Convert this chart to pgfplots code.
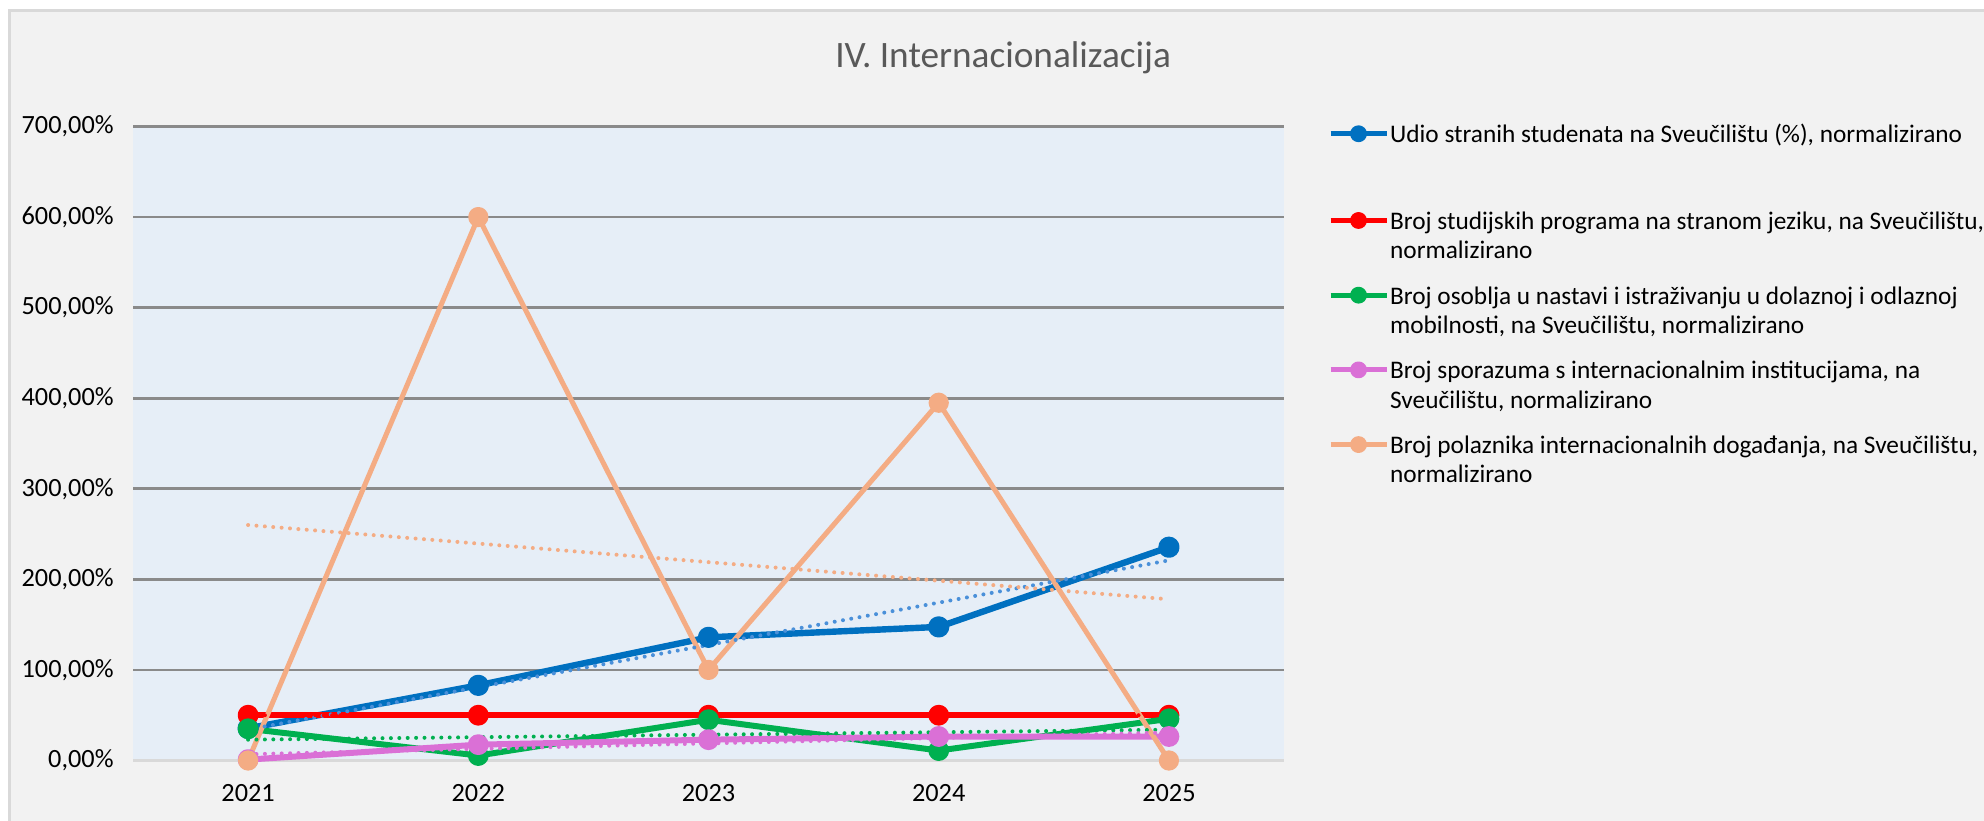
\documentclass[border=0pt]{standalone}
\usepackage{fontspec}
\setmainfont{Carlito}
\usepackage{pgfplots}
\pgfplotsset{compat=1.18}
\definecolor{chartbg}{HTML}{F2F2F2}
\definecolor{chartborder}{HTML}{D9D9D9}
\definecolor{plotbg}{HTML}{E6EEF7}
\definecolor{gridc}{HTML}{8A8A8A}
\definecolor{zeroc}{HTML}{D9D9D9}
\definecolor{titlec}{HTML}{595959}
\definecolor{cblue}{HTML}{0070C0}
\definecolor{cbluet}{HTML}{4A90D9}
\definecolor{cred}{HTML}{FF0000}
\definecolor{cgreen}{HTML}{00B050}
\definecolor{cpink}{HTML}{DA70D6}
\definecolor{corange}{HTML}{F4AC84}
\begin{document}
\begin{tikzpicture}[x=0.5bp,y=0.5bp]
\path[use as bounding box] (0,0) rectangle (1984,820);
\fill[white] (0,0) rectangle (1984,820);
\filldraw[fill=chartbg, draw=chartborder, line width=1.5bp] (9,-10) rectangle (2000,809);
\begin{axis}[
  at={(66.5bp,29.75bp)}, anchor=south west,
  scale only axis, width=575.5bp, height=317bp,
  xmin=-0.5, xmax=4.5, ymin=0, ymax=700,
  xtick={0,1,2,3,4}, xticklabels={2021,2022,2023,2024,2025},
  ytick={100,200,300,400,500,600,700},
  yticklabels={{100,00\%},{200,00\%},{300,00\%},{400,00\%},{500,00\%},{600,00\%},{700,00\%}},
  extra y ticks={0}, extra y tick labels={0{,}00\%},
  extra y tick style={grid style={color=zeroc, line width=1.5bp}},
  ymajorgrids, grid style={color=gridc, line width=1.3bp},
  axis line style={draw=none}, major tick length=0pt,
  axis background/.style={fill=plotbg},
  tick label style={font=\fontsize{13.2}{15}\selectfont, text=black},
  yticklabel style={anchor=east, inner sep=0pt, xshift=-9.5bp},
  xticklabel style={anchor=north, inner sep=0pt, yshift=-12bp},
  clip=false,
  title={IV. Internacionalizacija},
  title style={at={(axis description cs:0.756,1.089)}, anchor=center, font=\fontsize{18.7}{22}\selectfont, text=titlec},
  legend style={at={(axis description cs:1.0378,1.033)}, anchor=north west, draw=none, fill=none,
    font=\fontsize{12.7}{14.8}\selectfont, text=black, cells={align=left, anchor=west},
    row sep=6.8bp, inner xsep=0pt, inner ysep=0pt,
    nodes={inner xsep=0.5bp}},
  legend image code/.code={\draw[mark repeat=2, mark phase=2, yshift=7.4bp, #1, line width=2.6bp, mark size=2.9bp] plot coordinates {(0bp,0bp) (14bp,0bp) (28bp,0bp)};},
  every axis plot/.append style={line join=round},
  trend/.style={forget plot, line width=2bp, line cap=round, dash pattern=on 0bp off 4.2bp},
]
\addplot[color=cblue, line width=3.2bp, mark=*, mark size=3.7bp] coordinates {(0,35.5) (1,83) (2,136) (3,147.5) (4,235.5)};
\addlegendentry{\rule{0pt}{16.36bp}\strut Udio stranih studenata na Sveučilištu (\%), normalizirano\\[6bp]\strut}
\addplot[color=cred, line width=3bp, mark=*, mark size=3.7bp] coordinates {(0,50) (1,50) (2,50) (3,50) (4,50)};
\addlegendentry{\strut Broj studijskih programa na stranom jeziku, na Sveučilištu,\\\strut normalizirano}
\addplot[color=cgreen, line width=3bp, mark=*, mark size=3.7bp] coordinates {(0,35) (1,5.5) (2,45) (3,11) (4,46)};
\addlegendentry{\strut Broj osoblja u nastavi i istraživanju u dolaznoj i odlaznoj\\\strut mobilnosti, na Sveučilištu, normalizirano}
\addplot[color=cpink, line width=3bp, mark=*, mark size=3.7bp] coordinates {(0,1) (1,17.5) (2,23) (3,26.5) (4,26.5)};
\addlegendentry{\strut Broj sporazuma s internacionalnim institucijama, na\\\strut Sveučilištu, normalizirano}
\addplot[color=corange, line width=2.5bp, mark=*, mark size=3.8bp] coordinates {(0,0) (1,600) (2,100) (3,395) (4,0)};
\addlegendentry{\strut Broj polaznika internacionalnih događanja, na Sveučilištu,\\\strut normalizirano}
% linear trend lines
\addplot[trend, color=cbluet] coordinates {(0,34.2) (4,221)};
\addplot[trend, color=cred] coordinates {(0,50) (4,50)};
\addplot[trend, color=cgreen] coordinates {(0,23) (4,34)};
\addplot[trend, color=cpink] coordinates {(0,6.9) (4,30.9)};
\addplot[trend, color=corange] coordinates {(0,260) (4,178)};
\end{axis}
\end{tikzpicture}
\end{document}
